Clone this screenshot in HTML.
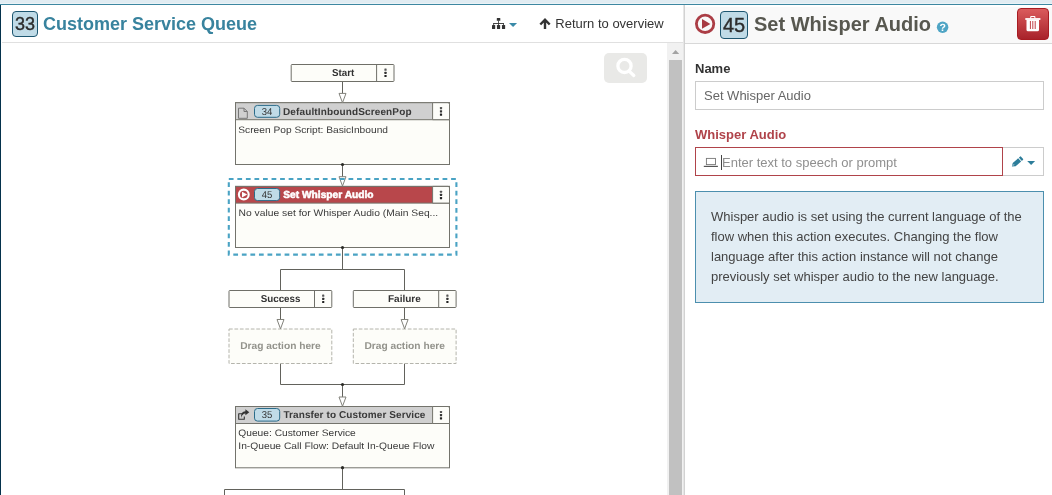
<!DOCTYPE html>
<html>
<head>
<meta charset="utf-8">
<title>Customer Service Queue</title>
<style>
html,body{margin:0;padding:0;}
body{width:1052px;height:495px;overflow:hidden;background:#fff;position:relative;font-family:"Liberation Sans",sans-serif;font-size:13px;color:#333;}
.abs{position:absolute;}
#topband{left:0;top:0;width:1052px;height:4px;background:#e1ecf2;}
#topband2{left:0;top:3px;width:1052px;height:1px;background:#ebf3f7;}
#topline{left:0;top:4px;width:1052px;height:1px;background:#3d87a1;}
#leftline{left:0;top:5px;width:1px;height:490px;background:#04324c;}
#lhead{left:2px;top:5px;width:681px;height:37px;background:#fff;border-bottom:1px solid #e0e0e0;}
#rhead{left:685px;top:7px;width:367px;height:36px;background:#f9f9f9;border-bottom:1px solid #d8d8d8;}
#split1{left:683px;top:5px;width:1px;height:490px;background:#e6e6e6;}
#split2{left:684px;top:5px;width:1px;height:490px;background:#d2d2d2;}
.badge{-webkit-text-stroke:0.4px #2d2d2d;box-sizing:border-box;border:1px solid #1d5670;background:#c0dbe7;border-radius:4px;color:#2d2d2d;text-align:center;}
#b33{left:12px;top:11px;width:26px;height:26px;font-size:18px;line-height:24px;}
#title{left:43px;top:13px;font-size:18px;font-weight:bold;color:#38839e;line-height:22px;white-space:nowrap;}
#ret{left:555.300px;top:16px;font-size:13px;color:#333;line-height:15px;white-space:nowrap;}
#b45{left:720px;top:11px;width:28px;height:28px;font-size:20px;line-height:26px;}
#rtitle{left:754px;top:12px;font-size:20px;font-weight:bold;color:#585850;line-height:24px;white-space:nowrap;}
#del{left:1017px;top:8px;width:32px;height:32px;box-sizing:border-box;border:1px solid #a81c22;border-radius:4px;background:linear-gradient(#da5b5c,#a8222a);}
#sbtrack{left:667px;top:43px;width:16px;height:452px;background:#f1f1f1;}
#sbthumb{left:669px;top:60px;width:13px;height:435px;background:#c1c1c1;}
#search{left:604px;top:53px;width:43px;height:30px;background:#e9e9e7;border-radius:5px;}
#lname{left:695px;top:61px;font-weight:bold;font-size:13px;line-height:15px;color:#333;}
#iname{left:695px;top:81px;width:349px;height:29px;box-sizing:border-box;border:1px solid #ccc;background:#fff;}
#iname span{position:absolute;left:8px;top:6px;font-size:13px;line-height:15px;color:#666;white-space:nowrap;}
#lwa{left:695px;top:127px;font-weight:bold;font-size:13px;line-height:15px;color:#b0434a;white-space:nowrap;}
#iwa{left:695px;top:147px;width:308px;height:29px;box-sizing:border-box;border:1px solid #b0434a;background:#fff;}
#iwa span{position:absolute;left:26px;top:7px;font-size:13px;line-height:15px;color:#8f8f8f;white-space:nowrap;}
#iwabtn{left:1003px;top:147px;width:41px;height:29px;box-sizing:border-box;border:1px solid #ccc;border-left:none;background:#fff;}
#info{left:695px;top:191px;width:349px;height:112px;box-sizing:border-box;border:1px solid #4c8fae;background:#e2edf4;}
#info div{position:absolute;left:15px;top:15px;font-size:13px;line-height:20px;color:#444;white-space:nowrap;}
svg text{font-family:"Liberation Sans",sans-serif;text-rendering:geometricPrecision;}
</style>
</head>
<body>
<div id="wrap" style="position:absolute;left:0;top:0;width:1052px;height:495px;will-change:transform;">
<div class="abs" id="topband"></div>
<div class="abs" id="topband2"></div>
<div class="abs" id="topline"></div>
<div class="abs" id="leftline"></div>
<div class="abs" id="lhead"></div>
<div class="abs" id="rhead"></div>
<div class="abs" id="split1"></div>
<div class="abs" id="split2"></div>

<div class="abs badge" id="b33">33</div>
<div class="abs" id="title">Customer Service Queue</div>
<div class="abs" id="ret">Return to overview</div>

<div class="abs badge" id="b45">45</div>
<div class="abs" id="rtitle">Set Whisper Audio</div>
<div class="abs" id="del"></div>

<div class="abs" id="sbtrack"></div>
<div class="abs" id="sbthumb"></div>
<div class="abs" id="search"></div>

<div class="abs" id="lname">Name</div>
<div class="abs" id="iname"><span>Set Whisper Audio</span></div>
<div class="abs" id="lwa">Whisper Audio</div>
<div class="abs" id="iwa"><span>Enter text to speech or prompt</span></div>
<div class="abs" id="iwabtn"></div>
<div class="abs" id="info"><div>Whisper audio is set using the current language of the<br>flow when this action executes. Changing the flow<br>language after this action instance will not change<br>previously set whisper audio to the new language.</div></div>

<svg class="abs" id="flow" style="left:0;top:0" width="667" height="495" viewBox="0 0 667 495">
<defs>
<g id="dots"><rect x="-1.1" y="-4.2" width="2.2" height="2.2" rx="0.5" fill="#555"/><rect x="-1.1" y="-1" width="2.2" height="2.2" rx="0.5" fill="#333"/><rect x="-1.1" y="2.2" width="2.2" height="2.2" rx="0.5" fill="#222"/></g>
<path id="arr" d="M-3.5 -9.300 L3.5 -9.300 L0 0 Z" fill="#fff" stroke="#82827b" stroke-width="1"/>
</defs>
<g fill="none" stroke="#62625c" stroke-width="1">
<path d="M342.5 81.5V93.5"/>
<path d="M342.5 164.5V177"/>
<path d="M342.5 247.5V269.5M280.5 290.5V269.5H404.5V290.5"/>
<path d="M280.5 307.5V319.5M404.5 307.5V319.5"/>
<path d="M280.5 363.5V384.5H404.5V363.5M342.5 384.5V397"/>
<path d="M342.5 467.5V489.5M224.5 495V489.5H404.5V495"/>
</g>
<!-- start -->
<g stroke="#6f6f68" stroke-width="1" fill="#fdfdf9">
<rect x="291.2" y="64.5" width="102.8" height="17" rx="0.7"/>
<path d="M376.6 64.5V81.5"/>
<rect x="229" y="290.5" width="102.8" height="17" rx="0.7"/>
<path d="M314.5 290.5V307.5"/>
<rect x="353.3" y="290.5" width="102.8" height="17" rx="0.7"/>
<path d="M438.7 290.5V307.5"/>
</g>
<use href="#dots" x="385.5" y="72.700"/>
<use href="#dots" x="323.200" y="298.700"/>
<use href="#dots" x="447.400" y="298.700"/>
<g font-size="10" font-weight="bold" fill="#333" text-anchor="middle">
<text x="343.1" y="75.900" textLength="22.300" lengthAdjust="spacingAndGlyphs">Start</text>
<text x="280.6" y="301.900" textLength="39.800" lengthAdjust="spacingAndGlyphs">Success</text>
<text x="404.4" y="301.900" textLength="32.800" lengthAdjust="spacingAndGlyphs">Failure</text>
</g>
<!-- drag boxes -->
<g stroke="#b4b4ac" stroke-width="1" fill="#fdfdf9" stroke-dasharray="3.7 1.75">
<rect x="229" y="329" width="102.8" height="34.500"/>
<rect x="353.3" y="329" width="102.8" height="34.500"/>
</g>
<g font-size="10" font-weight="bold" fill="#93938c" text-anchor="middle">
<text x="280.5" y="349.300" textLength="80.600" lengthAdjust="spacingAndGlyphs">Drag action here</text>
<text x="404.7" y="349.300" textLength="80.600" lengthAdjust="spacingAndGlyphs">Drag action here</text>
</g>
<!-- box1 -->
<g stroke="#73736c" stroke-width="1">
<rect x="235.5" y="102.7" width="214" height="61.8" fill="#fdfdf9"/>
<rect x="235.5" y="102.7" width="214" height="17" fill="#d0d0d0"/>
<path d="M432.6 102.7H448.0Q449.5 102.7 449.5 104.2V119.7H432.6Z" fill="#fdfdf9"/>
</g>
<use href="#dots" x="441" y="111.30"/>
<rect x="254.5" y="105.40" width="25.2" height="11.90" rx="3" fill="#c0dbe7" stroke="#2b6c8a"/>
<text x="267" y="114.90" font-size="10" text-anchor="middle" fill="#333" textLength="10.6" lengthAdjust="spacingAndGlyphs">34</text>
<text x="283" y="114.70" font-size="10" font-weight="bold" fill="#3a3a3a" textLength="128.5" lengthAdjust="spacing">DefaultInboundScreenPop</text>
<text x="238.3" y="133.00" font-size="9.4" fill="#3a3a3a" textLength="149.7" lengthAdjust="spacingAndGlyphs">Screen Pop Script: BasicInbound</text>
<!-- box2 -->
<g stroke="#73736c" stroke-width="1">
<rect x="235.5" y="186.4" width="214" height="61.1" fill="#fdfdf9"/>
<rect x="235.5" y="186.4" width="214" height="16.7" fill="#b8474b"/>
<path d="M432.6 186.4H448.0Q449.5 186.4 449.5 187.9V203.1H432.6Z" fill="#fdfdf9"/>
</g>
<use href="#dots" x="441" y="194.85"/>
<rect x="254.5" y="188.50" width="25.2" height="12.10" rx="3" fill="#c0dbe7" stroke="#2b6c8a"/>
<text x="267" y="197.60" font-size="10" text-anchor="middle" fill="#333" textLength="10.6" lengthAdjust="spacingAndGlyphs">45</text>
<text x="283.3" y="197.80" font-size="10.2" font-weight="bold" fill="#fff" stroke="#fff" stroke-width="0.55" textLength="90.2" lengthAdjust="spacingAndGlyphs">Set Whisper Audio</text>
<text x="238.6" y="215.80" font-size="9.4" fill="#3a3a3a" textLength="199.6" lengthAdjust="spacingAndGlyphs">No value set for Whisper Audio (Main Seq...</text>
<!-- box3 -->
<g stroke="#73736c" stroke-width="1">
<rect x="235.5" y="406.5" width="214" height="61.3" fill="#fdfdf9"/>
<rect x="235.5" y="406.5" width="214" height="17" fill="#d0d0d0"/>
<path d="M432.6 406.5H448.0Q449.5 406.5 449.5 408.0V423.5H432.6Z" fill="#fdfdf9"/>
</g>
<use href="#dots" x="441" y="415.10"/>
<rect x="254.5" y="408.50" width="25.2" height="12.60" rx="3" fill="#c0dbe7" stroke="#2b6c8a"/>
<text x="267" y="417.80" font-size="10" text-anchor="middle" fill="#333" textLength="10.6" lengthAdjust="spacingAndGlyphs">35</text>
<text x="283.4" y="417.60" font-size="10" font-weight="bold" fill="#3a3a3a" textLength="142" lengthAdjust="spacing">Transfer to Customer Service</text>
<text x="238.3" y="436.10" font-size="9.4" fill="#3a3a3a" textLength="117.5" lengthAdjust="spacingAndGlyphs">Queue: Customer Service</text>
<text x="238.3" y="449.30" font-size="9.4" fill="#3a3a3a" textLength="196" lengthAdjust="spacingAndGlyphs">In-Queue Call Flow: Default In-Queue Flow</text>
<!-- arrows and dots -->
<use href="#arr" x="342.5" y="102.7"/>
<use href="#arr" x="342.5" y="186"/>
<use href="#arr" x="280.5" y="328.800"/>
<use href="#arr" x="404.6" y="328.800"/>
<use href="#arr" x="342.5" y="406.3"/>
<g fill="#2a2a26">
<circle cx="342.5" cy="164.5" r="1.600"/>
<circle cx="342.5" cy="247.5" r="1.600"/>
<circle cx="342.5" cy="384.5" r="1.600"/>
<circle cx="342.5" cy="467.7" r="1.600"/>
</g>
<!-- selection -->
<rect x="228.8" y="179" width="227.6" height="75.6" fill="none" stroke="#4aa3c4" stroke-width="2.1" stroke-dasharray="4.75 3.8"/>
</svg>
<svg class="abs" id="icons" style="left:0;top:0" width="1052" height="495" viewBox="0 0 1052 495">
<!-- sitemap -->
<g fill="#333">
<rect x="496.8" y="17.9" width="3.5" height="2.900" rx="0.4"/>
<rect x="498.150" y="20.5" width="0.800" height="4.5"/>
<rect x="493.300" y="23.050" width="10.500" height="0.900"/>
<rect x="493.300" y="23.050" width="0.800" height="2.200"/>
<rect x="503" y="23.050" width="0.800" height="2.200"/>
<rect x="492" y="24.9" width="3.200" height="4.100" rx="0.5"/>
<rect x="496.950" y="24.9" width="3.200" height="4.100" rx="0.5"/>
<rect x="501.950" y="24.9" width="3.200" height="4.100" rx="0.5"/>
</g>
<path d="M509 23H517.100L513.050 27.100Z" fill="#3a8aa8"/>
<!-- arrow up -->
<path d="M545 29V20M540.300 24.500L545 19.700L549.700 24.500" fill="none" stroke="#333" stroke-width="2.400" stroke-linecap="butt" stroke-linejoin="miter"/>
<!-- search -->
<circle cx="624.5" cy="65.9" r="6.600" fill="none" stroke="#fff" stroke-width="3.300"/>
<path d="M629.400 71.400L633.800 75.500" stroke="#fff" stroke-width="3.300" stroke-linecap="round"/>
<!-- scroll arrow -->
<path d="M672 54H679.200L675.600 50Z" fill="#a3a3a3"/>
<!-- play circle big -->
<circle cx="705.1" cy="23.8" r="8.700" fill="none" stroke="#ab3d45" stroke-width="2.800"/>
<path d="M702 19V28.800L710.400 23.900Z" fill="#a83a42"/>
<!-- help -->
<circle cx="942.6" cy="27.3" r="5.750" fill="#4fa5c5"/>
<text x="942.6" y="31" font-size="10.500" font-weight="bold" fill="#fff" text-anchor="middle">?</text>
<!-- trash -->
<g fill="#fff">
<rect x="1025.300" y="18.100" width="15.100" height="1.800"/>
<path d="M1030.200 18.500V16.900Q1030.200 16 1031.100 16H1034.500Q1035.400 16 1035.400 16.900V18.500H1034.300V17.100H1031.300V18.500Z"/>
<path d="M1026.500 19.800H1039V29.800Q1039 31.300 1037.500 31.300H1028Q1026.500 31.300 1026.500 29.800Z"/>
</g>
<g fill="#c2444a">
<rect x="1029.900" y="21" width="1" height="8"/>
<rect x="1032.300" y="21" width="1" height="8"/>
<rect x="1034.700" y="21" width="1" height="8"/>
</g>
<!-- laptop -->
<rect x="706.400" y="158.400" width="9.100" height="6.200" fill="none" stroke="#777" stroke-width="0.900"/>
<rect x="703.800" y="165.800" width="14.100" height="1.200" fill="#555"/>
<rect x="721" y="155" width="1" height="15" fill="#444"/>
<!-- pencil -->
<g fill="#2d7d9a" transform="translate(1011.9 166.6) rotate(-41)">
<path d="M0 0L3 -2.2H10.300V2.200H3Z"/>
<rect x="11.100" y="-2.200" width="2.300" height="4.400" rx="0.500"/>
</g>
<path d="M1012.900 165.700L1013.900 164.400" stroke="#fff" stroke-width="0.800"/>
<path d="M1027.200 161H1035.100L1031.150 165Z" fill="#2d7d9a"/>
<!-- file icon -->
<path d="M238.500 108.200H244L247.300 111.500V118.300H238.500Z M244 108.200V111.500H247.300" fill="none" stroke="#777" stroke-width="1"/>
<!-- small play icon -->
<circle cx="243.8" cy="194.5" r="4.900" fill="none" stroke="#fff" stroke-width="2.100"/>
<path d="M242 191.700V197.500L247.200 194.600Z" fill="#fff"/>
<!-- share icon -->
<path d="M242.800 413.700H238.700V419.200H244.300V416.600" fill="none" stroke="#333" stroke-width="1.100" stroke-linejoin="round"/>
<path d="M245.400 409.300L249.300 412.300L245.400 415.300V413.400Q242.300 413.400 241 418Q240.600 411.400 245.400 411.200Z" fill="#333"/>
</svg>
</div>
</body>
</html>
